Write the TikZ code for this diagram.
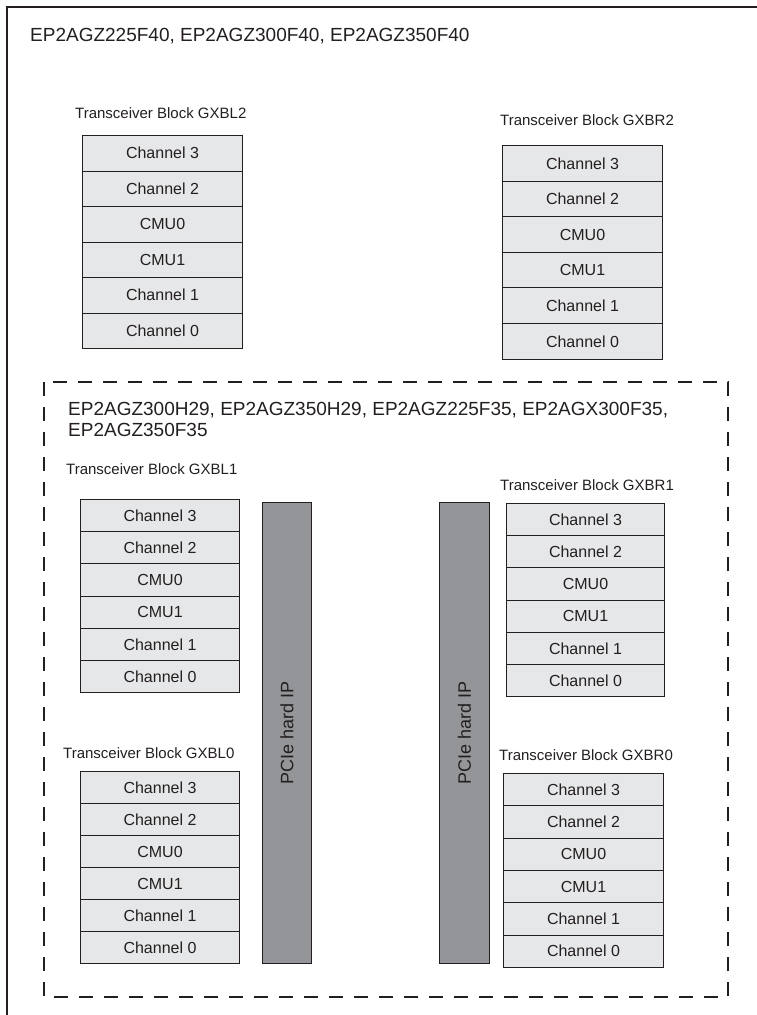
\documentclass[tikz,border=0pt]{standalone}
\usepackage{fontspec}
\setmainfont{Liberation Sans}
\definecolor{cellfill}{HTML}{E6E7E8}
\definecolor{barfill}{HTML}{939598}
\definecolor{edge}{HTML}{231F20}
\newcommand\xblock[5]{%
  \foreach [count=\i] \t in {Channel 3, Channel 2, CMU0, CMU1, Channel 1, Channel 0} {
    \node[cell, minimum width=#5pt, minimum height=#4pt] (#1-\i) at (#2,{#3+(\i-1)*#4}) {\t};
  }%
}
\begin{document}
\begin{tikzpicture}[x=1pt,y=-1pt,
  cell/.style={draw=edge, fill=cellfill, line width=1pt, anchor=north west, inner sep=0pt, text=edge, font=\fontsize{16}{19}\selectfont},
  lbl/.style={anchor=west, inner sep=0pt, text=edge, font=\fontsize{15}{18}\selectfont},
  head/.style={inner sep=0pt, text=edge, font=\fontsize{19}{21.5}\selectfont, align=left},
  bar/.style={draw=edge, fill=barfill, line width=1pt, anchor=north west, inner sep=0pt},
  bartext/.style={rotate=90, inner sep=0pt, text=edge, font=\fontsize{18}{21}\selectfont},
  frame/.style={draw=edge, line width=1.5pt},
  dashframe/.style={draw=edge, line width=1.2pt, dash pattern=on 14pt off 11pt}]
\useasboundingbox (0,0) rectangle (757,1015);
% outer frame (open at right and bottom)
\coordinate (fbl) at (7,1015);
\coordinate (ftl) at (7,7);
\coordinate (ftr) at (757,7);
\draw[frame] (fbl) -- (ftl) -- (ftr);
\node[head, anchor=west] (head1) at (30,36) {EP2AGZ225F40, EP2AGZ300F40, EP2AGZ350F40};
% top blocks
\node[lbl] (labL2) at (75,113) {Transceiver Block GXBL2};
\xblock{L2}{82}{135}{35.5}{160}
\node[lbl] (labR2) at (500,120) {Transceiver Block GXBR2};
\xblock{R2}{502}{145}{35.6}{160}
% dashed region
\coordinate (dtl) at (44,382);
\coordinate (dbr) at (728,997);
\draw[dashframe] (dtl) rectangle (dbr);
\node[head, anchor=north west] (head2) at (68,402) {EP2AGZ300H29, EP2AGZ350H29, EP2AGZ225F35, EP2AGX300F35,\\EP2AGZ350F35};
\node[lbl] (labL1) at (66,469) {Transceiver Block GXBL1};
\xblock{L1}{80}{499}{32.2}{159}
\node[lbl] (labR1) at (500,485) {Transceiver Block GXBR1};
\xblock{R1}{506}{503}{32.2}{158}
\node[lbl] (labL0) at (63,753) {Transceiver Block GXBL0};
\xblock{L0}{80}{771}{32}{159}
\node[lbl] (labR0) at (499,755) {Transceiver Block GXBR0};
\xblock{R0}{503}{773}{32.3}{160}
% PCIe bars
\node[bar, minimum width=49pt, minimum height=461pt] (barL) at (262,502) {};
\node[bartext] (barLt) at (barL.center) {PCIe hard IP};
\node[bar, minimum width=50pt, minimum height=461pt] (barR) at (439,502) {};
\node[bartext] (barRt) at (barR.center) {PCIe hard IP};
\end{tikzpicture}
\end{document}
